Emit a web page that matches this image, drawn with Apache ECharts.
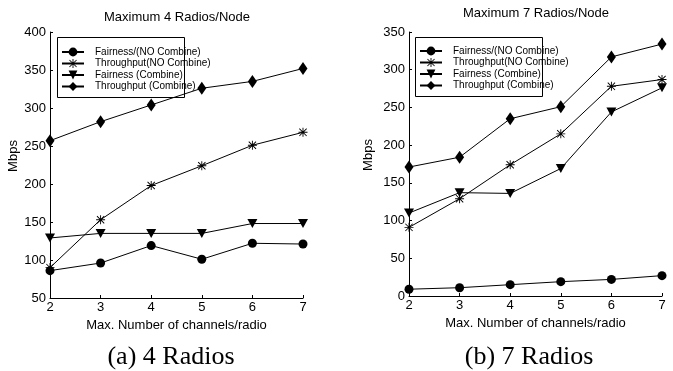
<!DOCTYPE html>
<html>
<head>
<meta charset="utf-8">
<script src="https://cdn.jsdelivr.net/npm/echarts@6/dist/echarts.min.js"></script>
<style>
html,body{margin:0;padding:0;background:#fff;}
#c{width:673px;height:371px;}
</style>
</head>
<body>
<div id="c"></div>
<script>
var channels = [2, 3, 4, 5, 6, 7];
var seriesNames = ['Fairness/(NO Combine)', 'Throughput(NO Combine)', 'Fairness (Combine)', 'Throughput (Combine)'];

// Maximum 4 Radios/Node
var r4FairNoComb = [86, 96, 119, 101, 122, 121];
var r4ThruNoComb = [90, 153, 198, 224, 251, 268];
var r4FairComb = [129, 135, 135, 135, 148, 148];
var r4ThruComb = [257, 282, 304, 326, 335, 352];

// Maximum 7 Radios/Node
var r7FairNoComb = [9, 11, 15, 19, 22, 27];
var r7ThruNoComb = [91, 129, 174, 215, 278, 287];
var r7FairComb = [110, 137, 136, 169, 244, 276];
var r7ThruComb = [171, 184, 235, 251, 317, 334];

var yTicks4 = [50, 400, 50];
var yTicks7 = [0, 350, 50];

var titles = ['Maximum 4 Radios/Node', 'Maximum 7 Radios/Node'];
var captions = ['(a) 4 Radios', '(b) 7 Radios'];
var xName = 'Max. Number of channels/radio';
var yName = 'Mbps';

var FONT = 'Liberation Sans, Arial, sans-serif';
var SERIF = 'Liberation Serif, Times New Roman, serif';

var asterisk = 'path://M4.5,0 L5.5,0 L5.5,10 L4.5,10 Z M0,4.5 L10,4.5 L10,5.5 L0,5.5 Z M0.6,1.3 L1.3,0.6 L9.4,8.7 L8.7,9.4 Z M8.7,0.6 L9.4,1.3 L1.3,9.4 L0.6,8.7 Z';
var triDown = 'path://M0,0 L10,0 L5,9 Z';
var symbols = ['circle', asterisk, triDown, 'diamond'];
var sizes = [9, 9, [10, 9], [9, 13]];

function pairs(vals) {
  return channels.map(function (c, i) { return [c, vals[i]]; });
}

function mkSeries(idx, datas, suffix) {
  return datas.map(function (d, i) {
    return {
      name: seriesNames[i] + suffix,
      type: 'line',
      xAxisIndex: idx,
      yAxisIndex: idx,
      data: pairs(d),
      symbol: symbols[i],
      symbolSize: sizes[i],
      showAllSymbol: true,
      lineStyle: { color: '#000', width: 1 },
      itemStyle: { color: '#000', borderWidth: 0 },
      emphasis: { disabled: true },
      animation: false,
      z: 3
    };
  });
}

function mkX(idx) {
  return {
    type: 'value', gridIndex: idx, min: 2, max: 7, interval: 1,
    name: xName, nameLocation: 'middle', nameGap: 20,
    nameTextStyle: { color: '#000', fontSize: 13, fontFamily: FONT },
    axisLine: { lineStyle: { color: '#000', width: 1 } },
    axisTick: { inside: true, length: 3, lineStyle: { color: '#000' } },
    axisLabel: { color: '#000', fontSize: 13, fontFamily: FONT, margin: 3 },
    splitLine: { show: false }
  };
}

function mkY(idx, t, gap) {
  return {
    type: 'value', gridIndex: idx, min: t[0], max: t[1], interval: t[2],
    name: yName, nameLocation: 'middle', nameGap: gap, nameRotate: 90,
    nameTextStyle: { color: '#000', fontSize: 13, fontFamily: FONT, padding: [0, 0, 0, 18] },
    axisLine: { show: true, lineStyle: { color: '#000', width: 1 } },
    axisTick: { show: true, inside: true, length: 3, lineStyle: { color: '#000' } },
    axisLabel: { color: '#000', fontSize: 13, fontFamily: FONT, margin: 4 },
    splitLine: { show: false }
  };
}

function mkLegend(suffix, left, top) {
  return {
    orient: 'vertical',
    left: left, top: top,
    data: seriesNames.map(function (n) { return { name: n + suffix }; }),
    formatter: function (n) { return n.trim(); },
    itemWidth: 22, itemHeight: 11, itemGap: 1.5,
    padding: 0,
    borderWidth: 0,
    selectedMode: false,
    textStyle: { color: '#000', fontSize: 10, fontFamily: FONT, padding: [0, 0, 0, 6] },
    z: 10
  };
}

var chart = echarts.init(document.getElementById('c'), null, { renderer: 'canvas' });
var series4 = mkSeries(0, [r4FairNoComb, r4ThruNoComb, r4FairComb, r4ThruComb], '');
var series7 = mkSeries(1, [r7FairNoComb, r7ThruNoComb, r7FairComb, r7ThruComb], ' ');

chart.setOption({
  animation: false,
  backgroundColor: '#fff',
  title: [
    { text: titles[0], left: 177, top: 11, textAlign: 'center', padding: 0,
      textStyle: { color: '#000', fontSize: 13, fontWeight: 'normal', fontFamily: FONT } },
    { text: titles[1], left: 536, top: 7, textAlign: 'center', padding: 0,
      textStyle: { color: '#000', fontSize: 13, fontWeight: 'normal', fontFamily: FONT } },
    { text: captions[0], left: 171, top: 344, textAlign: 'center', padding: 0,
      textStyle: { color: '#000', fontSize: 26, fontWeight: 'normal', fontFamily: SERIF } },
    { text: captions[1], left: 529, top: 344, textAlign: 'center', padding: 0,
      textStyle: { color: '#000', fontSize: 26, fontWeight: 'normal', fontFamily: SERIF } }
  ],
  legend: [mkLegend('', 61, 47), mkLegend(' ', 419, 46)],
  graphic: [
    { type: 'rect', shape: { x: 57.5, y: 37.5, width: 127, height: 60 },
      style: { fill: 'none', stroke: '#000', lineWidth: 1 }, z: 20, silent: true },
    { type: 'rect', shape: { x: 415.5, y: 37.5, width: 127, height: 59 },
      style: { fill: 'none', stroke: '#000', lineWidth: 1 }, z: 20, silent: true }
  ],
  grid: [
    { left: 50, top: 32, width: 253, height: 266, containLabel: false },
    { left: 409, top: 32, width: 253, height: 264, containLabel: false }
  ],
  xAxis: [mkX(0), mkX(1)],
  yAxis: [mkY(0, yTicks4, 28), mkY(1, yTicks7, 34)],
  series: series4.concat(series7)
});
</script>
</body>
</html>
